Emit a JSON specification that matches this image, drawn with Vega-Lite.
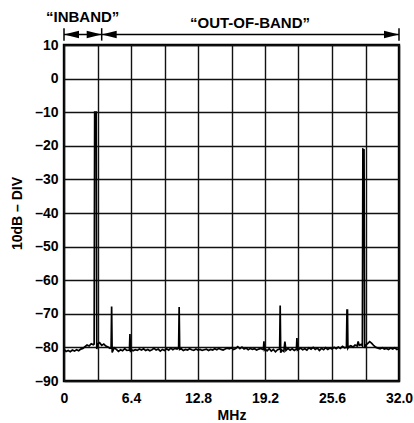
{
  "$schema": "https://vega.github.io/schema/vega-lite/v6.json",
  "width": 335,
  "height": 336,
  "autosize": {"type": "none"},
  "padding": {"left": 64, "top": 45, "right": 15, "bottom": 42},
  "background": "white",
  "config": {
    "font": "Liberation Sans",
    "view": {"stroke": "black", "strokeWidth": 2.4}
  },
  "encoding": {
    "x": {
      "field": "f", "type": "quantitative",
      "scale": {"domain": [0, 32], "nice": false, "zero": false},
      "axis": {
        "values": [0, 3.2, 6.4, 9.6, 12.8, 16, 19.2, 22.4, 25.6, 28.8, 32],
        "labelExpr": "datum.value == 0 ? '0' : (round(datum.value*10) % 64 == 0 ? format(datum.value, '.1f') : '')",
        "grid": true, "gridColor": "#111", "gridWidth": 1.4, "gridOpacity": 1,
        "ticks": false, "domain": false, "labelOverlap": false,
        "labelFontSize": 14, "labelFontWeight": "bold", "labelColor": "black", "labelPadding": 10,
        "labelFlush": false,
        "title": "MHz", "titleFontSize": 14, "titleFontWeight": "bold", "titleColor": "black", "titlePadding": 3
      }
    },
    "y": {
      "field": "d", "type": "quantitative",
      "scale": {"domain": [-90, 10], "nice": false, "zero": false},
      "axis": {
        "values": [-90, -80, -70, -60, -50, -40, -30, -20, -10, 0, 10],
        "labelExpr": "datum.value < 0 ? '–' + abs(datum.value) : '' + datum.value",
        "grid": true, "gridColor": "#111", "gridWidth": 1.4, "gridOpacity": 1,
        "ticks": false, "domain": false, "labelOverlap": false,
        "labelFontSize": 14, "labelFontWeight": "bold", "labelColor": "black", "labelPadding": 6,
        "title": "10dB – DIV", "titleFontSize": 14, "titleFontWeight": "bold", "titleColor": "black", "titlePadding": 10
      }
    }
  },
  "layer": [
    {
      "data": {"values": [
        {"f":0.0,"d":-80.6},{"f":0.2,"d":-81.2},{"f":0.4,"d":-80.9},{"f":0.6,"d":-81.3},{"f":0.8,"d":-80.8},
        {"f":1.0,"d":-81.1},{"f":1.2,"d":-80.7},{"f":1.4,"d":-81.0},{"f":1.6,"d":-80.5},{"f":1.8,"d":-80.3},
        {"f":2.0,"d":-79.8},{"f":2.2,"d":-79.3},{"f":2.4,"d":-79.6},{"f":2.6,"d":-78.9},{"f":2.8,"d":-79.2},
        {"f":2.88,"d":-79.0},{"f":2.93,"d":-10},{"f":3.08,"d":-10},{"f":3.13,"d":-80.5},
        {"f":3.2,"d":-79.0},{"f":3.4,"d":-78.6},{"f":3.6,"d":-79.4},{"f":3.8,"d":-79.0},{"f":4.0,"d":-79.6},
        {"f":4.2,"d":-79.9},{"f":4.4,"d":-80.3},{"f":4.5,"d":-80.2},{"f":4.55,"d":-67.8},{"f":4.6,"d":-81.5},
        {"f":4.8,"d":-80.1},{"f":5.0,"d":-80.6},{"f":5.2,"d":-81.2},{"f":5.4,"d":-80.7},{"f":5.6,"d":-81.0},
        {"f":5.8,"d":-80.4},{"f":6.0,"d":-80.9},{"f":6.25,"d":-80.8},{"f":6.3,"d":-76},{"f":6.35,"d":-81.4},
        {"f":6.4,"d":-80.6},{"f":6.6,"d":-81.0},{"f":6.8,"d":-80.7},{"f":7.0,"d":-80.9},{"f":7.2,"d":-80.5},
        {"f":7.4,"d":-80.8},{"f":7.6,"d":-80.4},{"f":7.8,"d":-80.9},{"f":8.0,"d":-80.6},{"f":8.2,"d":-81.0},
        {"f":8.4,"d":-80.7},{"f":8.6,"d":-80.3},{"f":8.8,"d":-80.8},{"f":9.0,"d":-80.5},{"f":9.2,"d":-81.1},
        {"f":9.4,"d":-80.6},{"f":9.6,"d":-80.9},{"f":9.8,"d":-80.4},{"f":10.0,"d":-80.8},{"f":10.2,"d":-80.2},
        {"f":10.4,"d":-80.7},{"f":10.6,"d":-80.3},{"f":10.8,"d":-80.5},{"f":10.95,"d":-80.2},{"f":11.0,"d":-68},
        {"f":11.05,"d":-80.6},{"f":11.2,"d":-80.4},{"f":11.4,"d":-80.9},{"f":11.6,"d":-80.6},{"f":11.8,"d":-80.8},
        {"f":12.0,"d":-80.4},{"f":12.2,"d":-80.7},{"f":12.4,"d":-80.9},{"f":12.6,"d":-80.5},{"f":12.8,"d":-80.8},
        {"f":13.0,"d":-80.6},{"f":13.2,"d":-80.9},{"f":13.4,"d":-80.7},{"f":13.6,"d":-80.5},{"f":13.8,"d":-80.9},
        {"f":14.0,"d":-80.6},{"f":14.2,"d":-80.8},{"f":14.4,"d":-80.4},{"f":14.6,"d":-80.7},{"f":14.8,"d":-80.3},
        {"f":15.0,"d":-80.6},{"f":15.2,"d":-80.8},{"f":15.4,"d":-80.5},{"f":15.6,"d":-80.2},{"f":15.8,"d":-80.4},
        {"f":16.0,"d":-80.1},{"f":16.2,"d":-80.6},{"f":16.4,"d":-80.3},{"f":16.6,"d":-79.8},{"f":16.8,"d":-80.4},
        {"f":17.0,"d":-79.9},{"f":17.2,"d":-80.5},{"f":17.4,"d":-80.2},{"f":17.6,"d":-80.7},{"f":17.8,"d":-80.3},
        {"f":18.0,"d":-80.6},{"f":18.2,"d":-80.4},{"f":18.4,"d":-80.8},{"f":18.6,"d":-80.5},{"f":18.8,"d":-80.3},
        {"f":19.0,"d":-80.6},{"f":19.05,"d":-80.4},{"f":19.1,"d":-78.2},{"f":19.15,"d":-80.7},{"f":19.2,"d":-80.5},
        {"f":19.4,"d":-81.0},{"f":19.6,"d":-80.4},{"f":19.8,"d":-81.1},{"f":20.0,"d":-80.6},{"f":20.2,"d":-81.3},
        {"f":20.4,"d":-80.7},{"f":20.6,"d":-80.5},{"f":20.65,"d":-67.5},{"f":20.7,"d":-81.6},{"f":20.8,"d":-80.8},
        {"f":21.0,"d":-81.2},{"f":21.1,"d":-78.3},{"f":21.2,"d":-80.9},{"f":21.4,"d":-80.3},{"f":21.6,"d":-80.8},
        {"f":21.8,"d":-80.4},{"f":22.0,"d":-80.9},{"f":22.2,"d":-80.5},{"f":22.25,"d":-77.2},{"f":22.3,"d":-80.8},
        {"f":22.4,"d":-80.6},{"f":22.6,"d":-80.2},{"f":22.8,"d":-80.7},{"f":23.0,"d":-80.4},{"f":23.2,"d":-80.8},
        {"f":23.4,"d":-80.1},{"f":23.6,"d":-80.5},{"f":23.8,"d":-80.0},{"f":24.0,"d":-80.6},{"f":24.2,"d":-80.2},
        {"f":24.4,"d":-80.9},{"f":24.6,"d":-80.3},{"f":24.8,"d":-80.7},{"f":25.0,"d":-80.1},{"f":25.2,"d":-80.6},
        {"f":25.4,"d":-80.2},{"f":25.6,"d":-80.5},{"f":25.8,"d":-80.0},{"f":26.0,"d":-80.4},{"f":26.2,"d":-79.9},
        {"f":26.4,"d":-80.3},{"f":26.6,"d":-79.7},{"f":26.8,"d":-80.1},{"f":26.98,"d":-80.0},{"f":27.03,"d":-68.9},
        {"f":27.08,"d":-68.9},{"f":27.12,"d":-80.2},{"f":27.2,"d":-79.8},{"f":27.4,"d":-79.5},{"f":27.6,"d":-79.9},{"f":27.8,"d":-79.3},
        {"f":28.0,"d":-79.6},{"f":28.1,"d":-78.2},{"f":28.2,"d":-79.4},{"f":28.4,"d":-79.1},{"f":28.5,"d":-79.5},
        {"f":28.55,"d":-21},{"f":28.66,"d":-21.2},{"f":28.72,"d":-80.2},{"f":28.8,"d":-79.4},{"f":29.0,"d":-78.9},
        {"f":29.2,"d":-78.3},{"f":29.4,"d":-78.8},{"f":29.6,"d":-79.5},{"f":29.8,"d":-80.0},{"f":30.0,"d":-80.2},
        {"f":30.2,"d":-80.4},{"f":30.4,"d":-80.1},{"f":30.6,"d":-80.5},{"f":30.8,"d":-80.3},{"f":31.0,"d":-80.6},
        {"f":31.2,"d":-80.2},{"f":31.4,"d":-80.5},{"f":31.6,"d":-80.1},{"f":31.8,"d":-80.6},{"f":32.0,"d":-80.3}
      ]},
      "mark": {"type": "line", "color": "black", "strokeWidth": 1.7, "clip": true}
    },
    {
      "data": {"values": [{"f": 0, "f2": 32, "d": 13.1}]},
      "mark": {"type": "rule", "color": "black", "strokeWidth": 1.5},
      "encoding": {
        "x2": {"field": "f2"}
      }
    },
    {
      "data": {"values": [
        {"f": 0, "d": 11.3, "d2": 15.0},
        {"f": 3.6, "d": 11.3, "d2": 15.0},
        {"f": 32, "d": 11.3, "d2": 15.0}
      ]},
      "mark": {"type": "rule", "color": "black", "strokeWidth": 1.5},
      "encoding": {
        "y2": {"field": "d2"}
      }
    },
    {
      "data": {"values": [
        {"f": 0, "d": 13.1, "dir": "left"},
        {"f": 3.6, "d": 13.1, "dir": "right"},
        {"f": 3.6, "d": 13.1, "dir": "left"},
        {"f": 32, "d": 13.1, "dir": "right"}
      ]},
      "mark": {"type": "point", "filled": true, "opacity": 1, "size": 225, "color": "black", "strokeWidth": 0},
      "encoding": {
        "shape": {
          "field": "dir", "type": "nominal",
          "scale": {"domain": ["left", "right"], "range": ["M0,0L2,-0.5L2,0.5Z", "M0,0L-2,-0.5L-2,0.5Z"]},
          "legend": null
        }
      }
    },
    {
      "data": {"values": [
        {"f": 1.78, "d": 18.2, "txt": "“INBAND”"},
        {"f": 17.77, "d": 16.4, "txt": "“OUT-OF-BAND”"}
      ]},
      "mark": {"type": "text", "fontSize": 15, "fontWeight": "bold", "color": "black", "baseline": "middle", "align": "center"},
      "encoding": {
        "text": {"field": "txt"}
      }
    }
  ]
}
